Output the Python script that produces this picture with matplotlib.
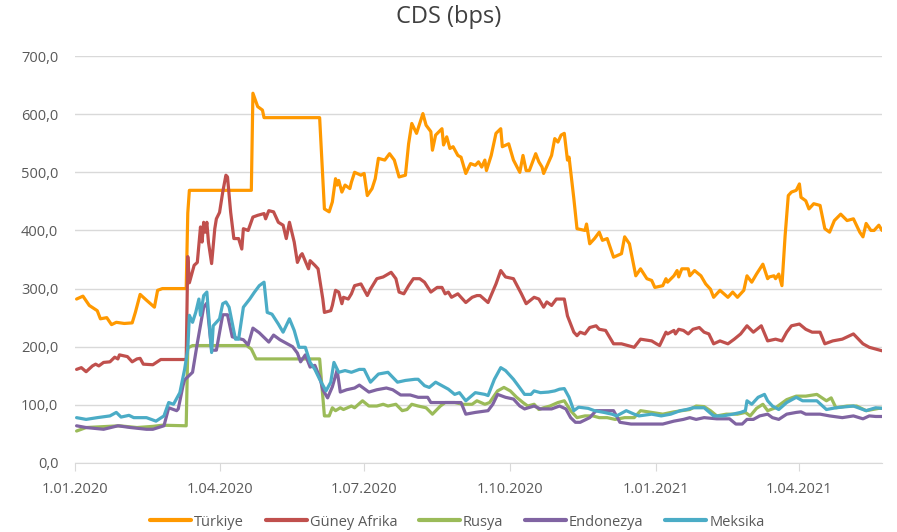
import matplotlib
matplotlib.use("Agg")
import matplotlib.pyplot as plt
import numpy as np
import pandas as pd
from matplotlib.ticker import FuncFormatter

plt.rcParams['font.family'] = ['Open Sans', 'DejaVu Sans']

START = "2020-01-01"
title = "CDS (bps)"
series_names = ["Türkiye", "Güney Afrika", "Rusya", "Endonezya", "Meksika"]
colors = ["#FF9900", "#C0504D", "#9BBB59", "#8064A2", "#4BACC6"]

# day offsets from 1.01.2020 and values (bps)
tr_day = [1, 5, 9, 14, 16, 20, 23, 26, 31, 36, 38, 41, 45, 50, 52, 55, 70, 71, 72, 111, 112, 115, 118, 119,
          154, 157, 160, 162, 164, 165, 166, 168, 170, 173, 174, 176, 180, 182, 184, 187, 189, 191, 195, 198,
          201, 204, 208, 210, 212, 215, 219, 221, 224, 225, 227, 231, 232, 234, 236, 238, 241, 243, 246, 249,
          252, 254, 256, 258, 259, 262, 265, 268, 269, 273, 276, 280, 282, 284, 286, 290, 292, 294, 295, 300,
          302, 304, 306, 308, 310, 311, 314, 316, 321, 322, 324, 327, 330, 332, 335, 339, 344, 346, 349, 353,
          356, 360, 363, 365, 370, 372, 373, 377, 379, 380, 382, 386, 387, 390, 394, 397, 400, 402, 406, 411,
          414, 417, 421, 423, 426, 429, 433, 436, 437, 440, 441, 443, 445, 447, 449, 451, 454, 456, 457, 460,
          462, 465, 469, 472, 475, 478, 482, 486, 490, 494, 496, 498, 501, 503, 506, 508]
tr_val = [282, 287, 271, 262, 248, 250, 238, 242, 240, 241, 259, 290, 280, 268, 297, 300, 300, 430, 469, 469, 636, 613, 607, 594,
          594, 437, 432, 449, 489, 478, 486, 466, 478, 472, 483, 500, 495, 498, 460, 472, 489, 524, 521, 532,
          521, 492, 495, 549, 584, 567, 601, 581, 570, 538, 564, 575, 547, 561, 541, 544, 529, 526, 498, 515,
          512, 518, 509, 521, 503, 529, 567, 575, 544, 549, 521, 500, 529, 503, 503, 532, 518, 509, 498, 529,
          558, 552, 564, 567, 521, 526, 455, 403, 400, 411, 377, 386, 397, 383, 386, 354, 360, 389, 377, 322,
          334, 317, 314, 302, 305, 317, 311, 322, 331, 320, 334, 334, 322, 331, 322, 308, 299, 285, 297, 285,
          294, 285, 297, 322, 311, 325, 342, 317, 320, 322, 317, 325, 305, 391, 460, 466, 469, 480, 457, 451,
          437, 446, 443, 403, 397, 417, 428, 417, 420, 397, 389, 412, 400, 400, 409, 400]

za_day = [1, 4, 7, 11, 13, 15, 18, 22, 25, 27, 28, 33, 36, 39, 41, 43, 49, 54, 70, 71, 72, 75, 77, 79, 80, 81, 82, 83,
          84, 86, 88, 89, 91, 93, 95, 96, 98, 100, 103, 105, 106, 109, 112, 115, 119, 120, 122, 125, 128, 131, 133,
          135, 138, 140, 142, 143, 147, 148, 151, 153, 156, 157, 161, 162, 164, 166, 168, 169, 172, 174, 176, 180,
          184, 186, 190, 194, 199, 202, 204, 207, 210, 213, 217, 220, 224, 228, 231, 233, 235, 237, 241, 243, 246,
          250, 253, 255, 260, 265, 268, 271, 276, 281, 284, 289, 292, 295, 297, 300, 303, 308, 310, 314, 316, 318,
          321, 324, 328, 330, 334, 339, 344, 352, 356, 363, 366, 368, 372, 373, 377, 378, 380, 383, 386, 389, 393,
          396, 399, 402, 406, 411, 415, 419, 423, 427, 432, 436, 441, 445, 448, 451, 456, 460, 464, 469, 472, 477,
          483, 490, 496, 500, 508]
za_val = [161, 164, 157, 167, 170, 167, 173, 174, 182, 179, 186, 183, 174, 179, 180, 170, 169, 178, 178, 355, 310, 340, 345, 406, 380, 414, 397, 414,
          380, 343, 403, 420, 431, 466, 495, 492, 431, 386, 386, 368, 403, 400, 423, 426, 429, 420, 434, 432, 414, 409, 386,
          414, 380, 345, 357, 360, 334, 348, 340, 334, 282, 259, 262, 271, 297, 294, 274, 285, 282, 291, 305, 308,
          288, 299, 317, 320, 328, 317, 294, 291, 305, 317, 317, 311, 294, 302, 302, 291, 294, 285, 291, 285, 276,
          285, 288, 288, 276, 308, 331, 320, 317, 291, 274, 285, 282, 268, 277, 271, 282, 282, 253, 225, 219, 225,
          222, 233, 236, 230, 228, 205, 205, 199, 213, 210, 205, 202, 225, 222, 228, 222, 230, 228, 222, 230, 233,
          225, 222, 205, 210, 205, 213, 222, 236, 225, 236, 210, 213, 210, 225, 236, 239, 230, 225, 225, 205, 210,
          213, 222, 205, 199, 193]

ru_day = [1, 7, 28, 39, 49, 55, 70, 71, 74, 108, 111, 114, 154, 157, 160, 162, 164, 167, 169, 174, 176, 181, 185, 190,
          194, 197, 202, 206, 209, 212, 216, 221, 225, 230, 233, 239, 244, 250, 253, 258, 261, 266, 270, 274, 278,
          282, 285, 289, 292, 295, 299, 304, 308, 312, 316, 321, 326, 330, 335, 340, 346, 352, 356, 363, 370, 377,
          382, 387, 391, 396, 400, 404, 410, 417, 422, 425, 429, 433, 436, 441, 448, 454, 460, 467, 473, 476, 479,
          486, 492, 498, 506, 508]
ru_val = [55, 61, 64, 61, 63, 65, 64, 198, 202, 202, 196, 179, 179, 81, 81, 95, 90, 95, 92, 98, 95, 107, 98, 98,
          101, 98, 101, 90, 92, 101, 98, 95, 84, 98, 104, 104, 101, 101, 107, 101, 104, 124, 130, 124, 113,
          104, 98, 101, 92, 95, 98, 104, 107, 90, 78, 81, 81, 78, 78, 75, 78, 78, 90, 87, 84, 88,
          90, 92, 98, 97, 90, 81, 84, 84, 87, 81, 94, 101, 90, 95, 109, 115, 115, 118, 107, 112, 95,
          98, 98, 90, 94, 94]

id_day = [1, 7, 18, 27, 35, 45, 49, 56, 59, 64, 65, 68, 69, 74, 77, 81, 83, 86, 89, 93, 96, 99, 106, 109, 112, 116,
          122, 125, 129, 133, 137, 140, 142, 145, 148, 151, 154, 156, 159, 162, 165, 167, 171, 176, 179, 185, 190,
          196, 200, 205, 211, 216, 222, 224, 233, 243, 246, 252, 260, 263, 266, 271, 276, 280, 283, 289, 293, 300,
          305, 309, 312, 315, 318, 324, 328, 339, 343, 350, 370, 377, 383, 387, 391, 396, 404, 412, 416, 420, 423,
          427, 431, 436, 439, 443, 448, 454, 457, 460, 469, 475, 483, 490, 496, 500, 504, 508]
id_val = [64, 61, 58, 64, 61, 58, 58, 64, 95, 90, 93, 133, 143, 156, 206, 268, 275, 194, 194, 255, 255, 217, 212, 203, 232, 224,
          208, 220, 212, 206, 200, 189, 174, 186, 165, 168, 148, 126, 112, 131, 160, 122, 126, 129, 134, 122, 126,
          129, 126, 117, 117, 113, 113, 104, 104, 104, 84, 87, 90, 101, 118, 113, 110, 98, 93, 98, 93, 93,
          98, 93, 78, 70, 70, 78, 90, 90, 70, 67, 67, 72, 75, 78, 75, 78, 76, 76, 67, 67, 75,
          75, 81, 84, 78, 75, 84, 87, 88, 84, 84, 81, 78, 81, 76, 81, 80, 80]

mx_day = [1, 7, 14, 22, 26, 29, 34, 37, 45, 51, 56, 59, 62, 66, 69, 71, 72, 74, 76, 78, 79, 81, 83, 86, 87, 89, 91, 93,
          95, 97, 101, 103, 106, 110, 113, 116, 119, 121, 124, 128, 131, 135, 138, 141, 145, 148, 151, 154, 158,
          161, 163, 166, 170, 174, 179, 182, 186, 191, 197, 203, 208, 214, 216, 220, 223, 227, 231, 235, 239, 242,
          246, 252, 258, 260, 264, 268, 271, 276, 279, 283, 287, 289, 293, 298, 302, 305, 308, 311, 314, 317, 323,
          327, 333, 338, 341, 347, 352, 355, 363, 369, 375, 381, 385, 389, 396, 402, 408, 414, 419, 422, 423, 426,
          430, 434, 436, 439, 443, 448, 454, 458, 467, 473, 479, 490, 498, 504, 508]
mx_val = [78, 75, 78, 81, 87, 79, 82, 78, 78, 72, 81, 104, 101, 121, 161, 196, 254, 242, 259, 282, 254, 288, 294, 190, 236, 242, 248, 274,
          277, 268, 213, 213, 268, 282, 294, 305, 311, 259, 256, 239, 225, 248, 228, 199, 199, 173, 161, 144, 124,
          139, 173, 156, 159, 156, 161, 161, 139, 153, 156, 139, 142, 144, 144, 133, 130, 139, 133, 127, 118, 121,
          107, 121, 118, 116, 144, 164, 159, 144, 133, 118, 118, 124, 121, 122, 124, 127, 128, 113, 90, 96, 94,
          90, 87, 84, 81, 90, 84, 81, 84, 81, 84, 90, 92, 95, 95, 81, 81, 84, 87, 90, 107, 101,
          113, 118, 107, 98, 92, 104, 113, 107, 107, 92, 95, 98, 90, 95, 94]

tick_dates = ["2020-01-01", "2020-04-01", "2020-07-01", "2020-10-01", "2021-01-01", "2021-04-01"]
tick_labels = ["1.01.2020", "1.04.2020", "1.07.2020", "1.10.2020", "1.01.2021", "1.04.2021"]
y_ticks = [0, 100, 200, 300, 400, 500, 600, 700]

start = pd.Timestamp(START)
def to_dates(days):
    return start + pd.to_timedelta(np.array(days), unit="D")

fig = plt.figure(figsize=(8.97, 5.32), dpi=100)
ax = fig.add_axes([0.0836, 0.1297, 0.8997, 0.7650])

all_series = [(tr_day, tr_val), (za_day, za_val), (ru_day, ru_val), (id_day, id_val), (mx_day, mx_val)]
for (d, v), name, c in zip(all_series, series_names, colors):
    ax.plot(to_dates(d), v, color=c, lw=2.3, label=name, solid_joinstyle="round", solid_capstyle="round")

ax.set_ylim(0, 700)
ax.set_yticks(y_ticks)
ax.yaxis.set_major_formatter(FuncFormatter(lambda v, p: f"{v:.1f}".replace(".", ",")))
ax.set_xlim(start, start + pd.Timedelta(days=508))
ax.set_xticks(pd.to_datetime(tick_dates))
ax.set_xticklabels(tick_labels)

ax.grid(axis="y", color="#d9d9d9", lw=1)
ax.set_axisbelow(True)
for s in ["top", "right", "left"]:
    ax.spines[s].set_visible(False)
ax.spines["bottom"].set_color("#d9d9d9")
ax.tick_params(axis="y", length=0, pad=12, labelsize=10.5, labelcolor="#595959")
ax.tick_params(axis="x", length=6, color="#d9d9d9", pad=8, labelsize=10.5, labelcolor="#595959")

fig.suptitle(title, y=0.99, fontsize=17, color="#404040")
fig.legend(loc="lower center", bbox_to_anchor=(0.51, -0.02), ncol=5, frameon=False,
           fontsize=10.5, handlelength=2.8, handletextpad=0.2, columnspacing=1.5,
           labelcolor="#595959")
for lh in fig.legends[0].get_lines():
    lh.set_linewidth(3)

fig.savefig("out.png", dpi=100)
